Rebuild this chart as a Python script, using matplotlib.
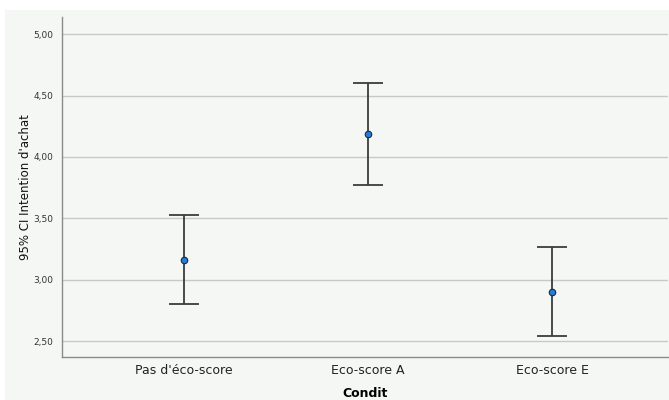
import matplotlib.pyplot as plt
from matplotlib.patches import Rectangle
from matplotlib.ticker import FuncFormatter

# data
conditions = ["Pas d'éco-score", "Eco-score A", "Eco-score E"]
means = [3.16, 4.19, 2.90]
ci_low = [2.80, 3.77, 2.54]
ci_high = [3.53, 4.60, 3.27]

bg = "#f5f7f5"
fig = plt.figure(figsize=(6.69, 4.0), dpi=100, facecolor="white")
# light panel behind everything, white margin at top/left like the source
fig.patches.append(Rectangle((5 / 669, 0), 1, 1 - 10 / 400, transform=fig.transFigure,
                             facecolor=bg, edgecolor="none", zorder=-10))
ax = fig.add_axes([62 / 669, 43 / 400, 606 / 669, 340 / 400])
ax.set_facecolor(bg)

x = list(range(len(conditions)))
err_lo = [m - l for m, l in zip(means, ci_low)]
err_hi = [h - m for m, h in zip(means, ci_high)]
ax.errorbar(x, means, yerr=[err_lo, err_hi], fmt="none", ecolor="#3c3c3c",
            elinewidth=1.3, capsize=11, capthick=1.3, zorder=3)
ax.scatter(x, means, s=22, color="#1f7fe0", edgecolors="#1a2a3a", linewidths=0.8, zorder=4)

ax.set_xlim(-0.66, 2.63)
ax.set_ylim(2.37, 5.14)
ax.set_yticks([2.5, 3.0, 3.5, 4.0, 4.5, 5.0])
ax.yaxis.set_major_formatter(FuncFormatter(lambda v, p: f"{v:.2f}".replace(".", ",")))
ax.set_xticks(x)
ax.set_xticklabels(conditions, fontsize=9, color="#222222")
ax.tick_params(axis="y", length=0, labelsize=6.5, labelcolor="#333333", pad=6)
ax.tick_params(axis="x", length=0, pad=5)
ax.grid(axis="y", color="#c8c8c8", linewidth=1.0, zorder=1)
ax.set_axisbelow(True)

for s in ["top", "right"]:
    ax.spines[s].set_visible(False)
for s in ["left", "bottom"]:
    ax.spines[s].set_color("#8a8a8a")
    ax.spines[s].set_linewidth(1.0)

ax.set_xlabel("Condit", fontsize=9, fontweight="bold", labelpad=7)
ax.set_ylabel("95% CI Intention d'achat", fontsize=8.5, labelpad=1, color="#111111")

fig.savefig("out.png", dpi=100, facecolor=fig.get_facecolor())
